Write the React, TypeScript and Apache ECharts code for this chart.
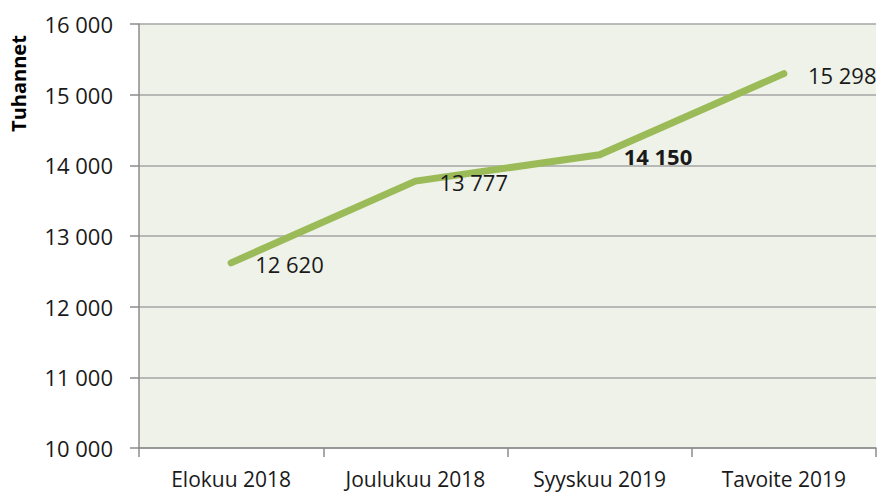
import React, { useEffect, useRef } from "react";
import * as echarts from "echarts";

const categories = ["Elokuu 2018", "Joulukuu 2018", "Syyskuu 2019", "Tavoite 2019"];
const values = [12620, 13777, 14150, 15298];
const boldIndex = [2];
const axisName = "Tuhannet";

const fmt = (v: number) => {
  const s = String(Math.round(v));
  return s.replace(/\B(?=(\d{3})+(?!\d))/g, " ");
};

export default function App() {
  const ref = useRef<HTMLDivElement>(null);
  useEffect(() => {
    document.body.style.margin = "0";
    const chart = echarts.init(ref.current!, null, { renderer: "svg" });
    const font = "'Open Sans', sans-serif";
    chart.setOption({
      animation: false,
      grid: {
        left: 139,
        right: 6,
        top: 24,
        bottom: 46,
        show: true,
        backgroundColor: "#EFF2E9",
        borderWidth: 0,
      },
      graphic: [
        {
          type: "text",
          x: 18.5,
          y: 83.5,
          rotation: Math.PI / 2,
          style: {
            text: axisName,
            fill: "#000",
            font: `bold 20px ${font}`,
            textAlign: "center",
            textVerticalAlign: "middle",
          },
        },
      ],
      xAxis: {
        type: "category",
        data: categories,
        boundaryGap: true,
        axisLine: { show: true, lineStyle: { color: "#8C8C8C", width: 1.5 } },
        axisTick: { show: true, length: 9, lineStyle: { color: "#8C8C8C", width: 1.5 } },
        axisLabel: {
          interval: 0,
          color: "#1a1a1a",
          fontSize: 21,
          lineHeight: 21,
          fontFamily: font,
          margin: 20,
        },
        splitLine: { show: false },
      },
      yAxis: {
        type: "value",
        min: 10000,
        max: 16000,
        interval: 1000,
        axisLine: { show: true, lineStyle: { color: "#8C8C8C", width: 1.5 } },
        axisTick: { show: true, length: 9, lineStyle: { color: "#8C8C8C", width: 1.5 } },
        axisLabel: {
          color: "#1a1a1a",
          fontSize: 22,
          fontFamily: font,
          margin: 26,
          formatter: (v: number) => fmt(v),
        },
        splitLine: { show: true, lineStyle: { color: "#A6A6A6", width: 1.5 } },
      },
      series: [
        {
          type: "line",
          data: values.map((v, i) => ({
            value: v,
            label: {
              fontWeight: boldIndex.includes(i) ? "bold" : "normal",
            },
          })),
          symbol: "circle",
          symbolSize: 4,
          showSymbol: true,
          itemStyle: { color: "#9BBB59" },
          lineStyle: { color: "#9BBB59", width: 7, join: "round", cap: "round" },
          label: {
            show: true,
            position: "right",
            distance: 22,
            offset: [0, 1],
            color: "#1a1a1a",
            fontSize: 22,
            fontFamily: font,
            formatter: (p: any) => fmt(p.value),
          },
        },
      ],
    });
    return () => chart.dispose();
  }, []);
  return <div ref={ref} style={{ width: 882, height: 494 }} />;
}
